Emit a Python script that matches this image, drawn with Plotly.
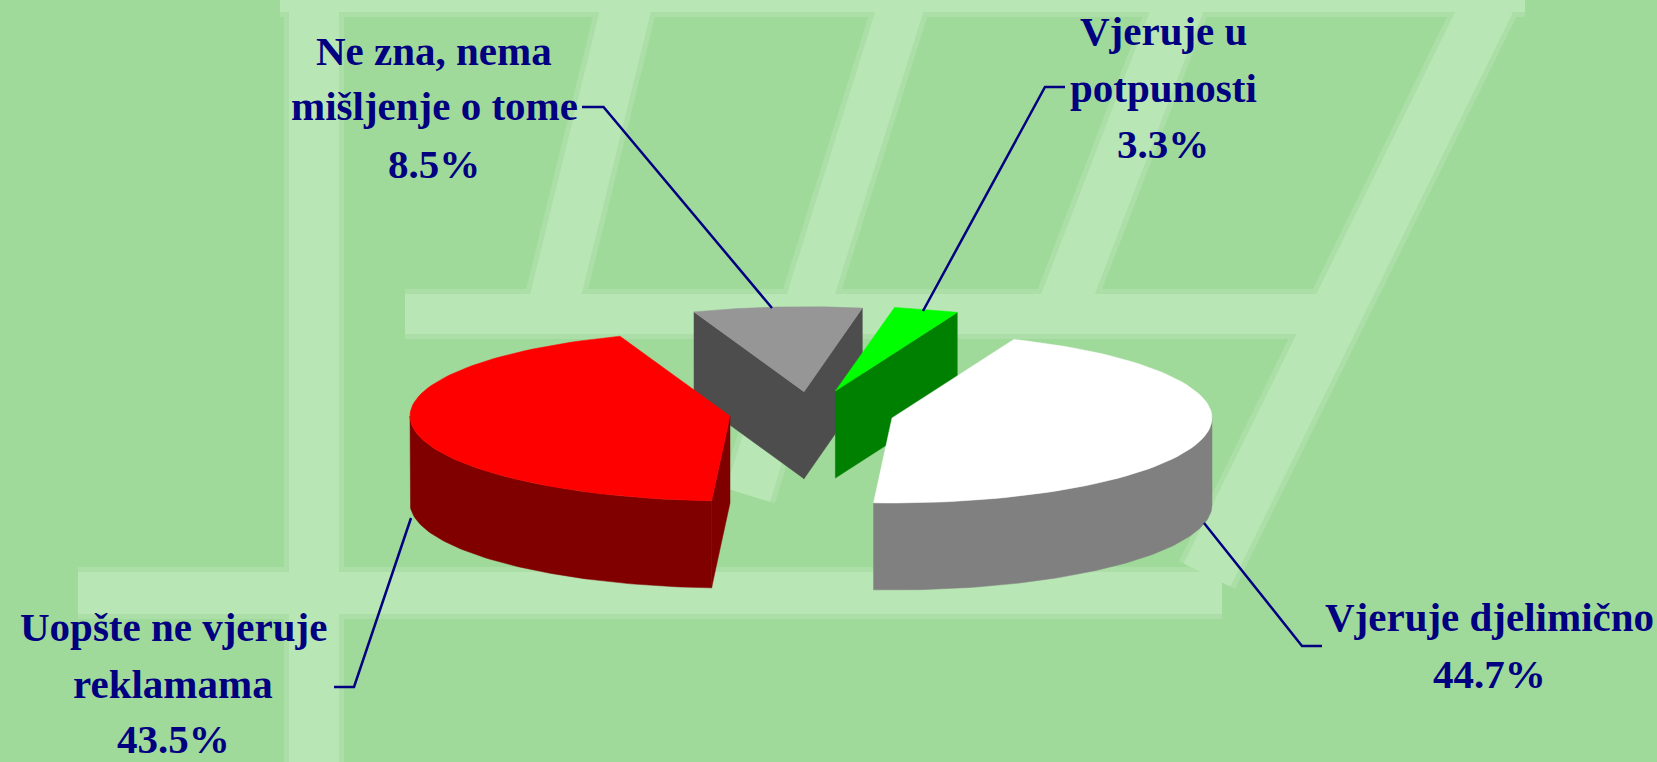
import math
import plotly.graph_objects as go

# ---- data
categories = ["Vjeruje u potpunosti", "Vjeruje djelimično", "Uopšte ne vjeruje reklamama", "Ne zna, nema mišljenje o tome"]
shares = [3.3, 44.7, 43.5, 8.5]
label_lines = [["Vjeruje u", "potpunosti", "3.3%"],
               ["Vjeruje djelimično", "44.7%"],
               ["Uopšte ne vjeruje", "reklamama", "43.5%"],
               ["Ne zna, nema", "mišljenje o tome", "8.5%"]]

# ---- styling / layout of the 3-D exploded pie
W, H = 1657, 762
BG = "#A0DA9B"
NAVY = "#000080"
FONT = "Liberation Serif"
FONT_SIZE = 41
START_ANGLE = 79.5
RX, RY, DEPTH = 320, 85, 87
centers = [(835.4, 391), (892, 418), (730, 416), (804, 391.7)]
top_colors = ["#00FF00", "#FFFFFF", "#FF0000", "#969696"]
side_colors = ["#008000", "#808080", "#800000", "#4D4D4D"]
draw_order = [3, 0, 1, 2]
label_x = [1163, 1489, 173, 434]
label_baselines = [[45, 102, 158], [631, 688], [641, 698, 753], [65, 120, 178]]
leaders = [[(1065, 87), (1045, 87), (923, 311)],
           [(1322, 646), (1302, 646), (1204, 523)],
           [(334, 687), (354, 687), (411, 518)],
           [(582, 107), (603.5, 107), (772, 308)]]
bg_bands = [((280, 0), (1525, 0), 24), ((405, 314), (1320, 314), 40), ((78, 593), (1222, 593), 42),
            ((314, 0), (314, 762), 50), ((628, 0), (552, 310), 50), ((903, 0), (748, 495), 46),
            ((1181, 0), (1060, 315), 50), ((1490, 0), (1207, 575), 52)]

fig = go.Figure()


def poly(xs, ys, color, name):
    fig.add_trace(go.Scatter(x=xs, y=ys, mode="lines", fill="toself", fillcolor=color,
                             line=dict(color=color, width=0.5), hoverinfo="text", text=name,
                             showlegend=False))


def arc(cx, cy, t0, t1, dy=0.0, n=80):
    ts = [t0 + (t1 - t0) * i / n for i in range(n + 1)]
    return ([cx + RX * math.cos(math.radians(t)) for t in ts],
            [cy - RY * math.sin(math.radians(t)) + dy for t in ts])


bounds = [START_ANGLE]
for s in shares:
    bounds.append(bounds[-1] - s / sum(shares) * 360)

for i in draw_order:
    cx, cy = centers[i]
    a0, a1 = bounds[i], bounds[i + 1]
    name = f"{categories[i]}: {shares[i]}%"
    for ang, visible in ((a0, math.cos(math.radians(a0)) < 0), (a1, math.cos(math.radians(a1)) > 0)):
        if visible:
            px = cx + RX * math.cos(math.radians(ang))
            py = cy - RY * math.sin(math.radians(ang))
            poly([cx, px, px, cx, cx], [cy, py, py + DEPTH, cy + DEPTH, cy], side_colors[i], name)
    # outer wall: the part of the rim on the front half of the ellipse
    lo, hi = max(a1, -180), min(a0, 0)
    if hi > lo:
        xt, yt = arc(cx, cy, hi, lo)
        xb, yb = arc(cx, cy, lo, hi, dy=DEPTH)
        poly(xt + xb + xt[:1], yt + yb + yt[:1], side_colors[i], name)
    xt, yt = arc(cx, cy, a0, a1)
    poly([cx] + xt + [cx], [cy] + yt + [cy], top_colors[i], name)

shapes = []
for extra, col in ((10, "#ACDFA7"), (0, "#B8E6B5")):
    for (x0, y0), (x1, y1), w in bg_bands:
        shapes.append(dict(type="line", xref="x", yref="y", x0=x0, y0=y0, x1=x1, y1=y1,
                           layer="below", line=dict(color=col, width=w + extra)))

for pts in leaders:
    fig.add_trace(go.Scatter(x=[p[0] for p in pts], y=[p[1] for p in pts], mode="lines",
                             line=dict(color=NAVY, width=2.5), hoverinfo="skip", showlegend=False))

annotations = []
for lines, x, bases in zip(label_lines, label_x, label_baselines):
    for line, base in zip(lines, bases):
        annotations.append(dict(x=x, y=base - 0.3375 * FONT_SIZE, text=f"<b>{line}</b>", showarrow=False,
                                xanchor="center", yanchor="middle",
                                font=dict(family=FONT, size=FONT_SIZE, color=NAVY)))

fig.update_layout(width=W, height=H, margin=dict(l=0, r=0, t=0, b=0), paper_bgcolor=BG, plot_bgcolor=BG,
                  xaxis=dict(range=[0, W], visible=False, fixedrange=True),
                  yaxis=dict(range=[H, 0], visible=False, fixedrange=True),
                  shapes=shapes, annotations=annotations, showlegend=False)
fig.write_html("out.html", config=dict(displayModeBar=False),
               post_script="document.body.style.margin='0';document.body.style.overflow='hidden';")
